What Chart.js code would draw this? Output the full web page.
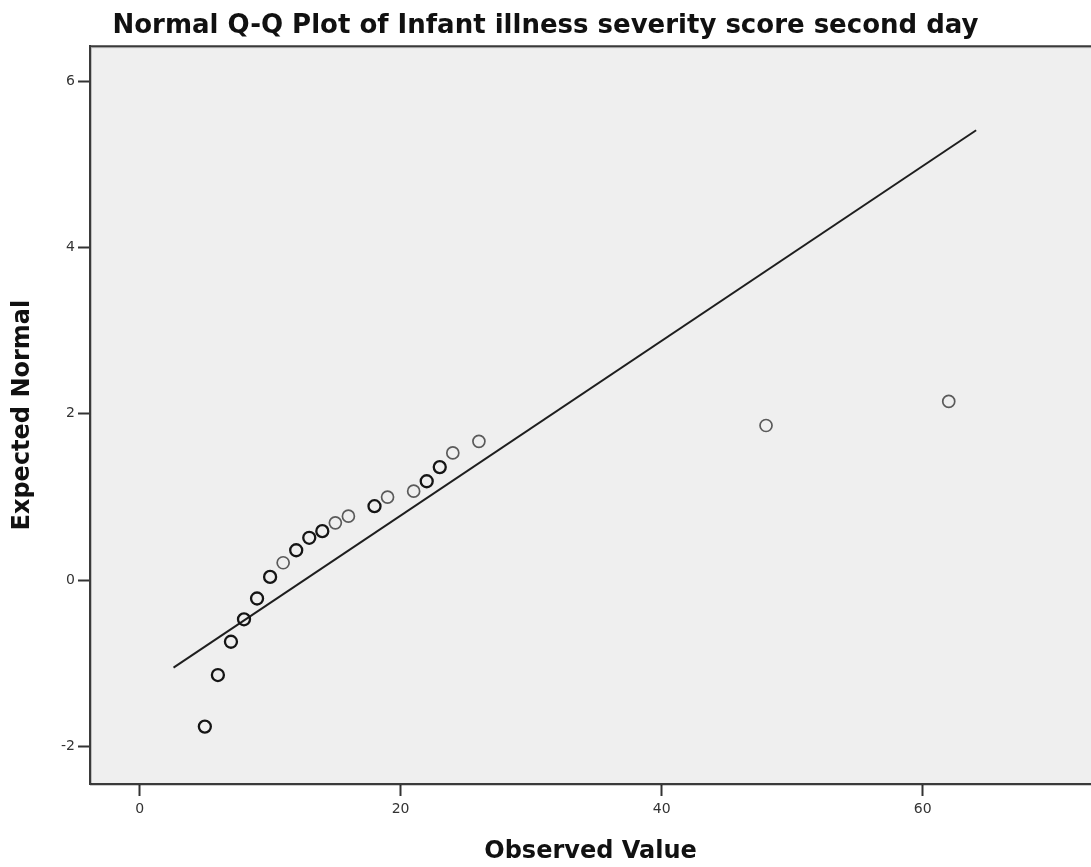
<!DOCTYPE html>
<html><head><meta charset="utf-8">
<script src="https://cdn.jsdelivr.net/npm/chart.js@4.4.1/dist/chart.umd.min.js"></script>
<style>html,body{margin:0;padding:0;background:#fff;overflow:hidden}#wrap{width:1091px;height:867px;position:relative}</style>
</head><body><div id="wrap"><canvas id="c" width="1091" height="867" style="width:1091px;height:867px"></canvas></div>
<script>
// Data
const observedValues = [5, 6, 7, 8, 9, 10, 11, 12, 13, 14, 15, 16, 18, 19, 21, 22, 23, 24, 26, 48, 62];
const expectedNormal = [-1.76, -1.14, -0.74, -0.47, -0.22, 0.04, 0.21, 0.36, 0.51, 0.59, 0.69, 0.77, 0.89, 1.00, 1.07, 1.19, 1.36, 1.53, 1.67, 1.86, 2.15];
const caseCounts = [3, 3, 3, 2, 3, 3, 1, 2, 2, 2, 1, 1, 2, 1, 1, 2, 2, 1, 1, 1, 1];
const refLineX = [2.6, 64.1];
const refLineY = [-1.05, 5.41];
const xTickValues = [0, 20, 40, 60];
const yTickValues = [-2, 0, 2, 4, 6];

const titleText = 'Normal Q-Q Plot of Infant illness severity score second day';
const xTitle = 'Observed Value';
const yTitle = 'Expected Normal';

const points = observedValues.map((x, i) => ({x: x, y: expectedNormal[i]}));
const linePts = refLineX.map((x, i) => ({x: x, y: refLineY[i]}));

const frame = {
  id: 'frame',
  beforeDraw(chart) {
    const {ctx, chartArea: a} = chart;
    ctx.save();
    ctx.fillStyle = '#efefef';
    ctx.fillRect(a.left, a.top, a.right - a.left + 10, a.bottom - a.top);
    ctx.restore();
  },
  afterDatasetsDraw(chart) {
    const {ctx, chartArea: a} = chart;
    ctx.save();
    ctx.strokeStyle = '#3a3a3a';
    ctx.lineWidth = 2;
    ctx.beginPath();
    ctx.moveTo(a.left, a.bottom);
    ctx.lineTo(a.left, a.top);
    ctx.lineTo(a.right + 10, a.top);
    ctx.stroke();
    ctx.strokeStyle = 'rgba(0,0,0,0.2)';
    ctx.lineWidth = 1;
    ctx.beginPath();
    ctx.moveTo(a.left + 1.5, a.bottom);
    ctx.lineTo(a.left + 1.5, a.top + 1.5);
    ctx.lineTo(a.right + 10, a.top + 1.5);
    ctx.moveTo(a.left, a.bottom + 1.5);
    ctx.lineTo(a.right + 10, a.bottom + 1.5);
    ctx.stroke();
    ctx.restore();
  }
};

new Chart(document.getElementById('c'), {
  type: 'scatter',
  data: {
    datasets: [
      {
        type: 'line',
        data: linePts,
        borderColor: '#1e1e1e',
        borderWidth: 2,
        pointRadius: 0,
        fill: false,
        order: 2
      },
      {
        data: points,
        pointRadius: 6,
        pointStyle: 'circle',
        backgroundColor: 'rgba(0,0,0,0)',
        borderColor: ctx => (caseCounts[ctx.dataIndex] > 1 ? '#151515' : '#5a5a5a'),
        pointBorderWidth: ctx => (caseCounts[ctx.dataIndex] > 1 ? 2.3 : 1.7),
        order: 1
      }
    ]
  },
  options: {
    responsive: false,
    animation: false,
    devicePixelRatio: 1,
    layout: {autoPadding: false, padding: {left: 0, right: 0, top: 0, bottom: 0}},
    plugins: {
      legend: {display: false},
      tooltip: {enabled: false},
      title: {
        display: true,
        text: titleText,
        color: '#111',
        font: {family: '"DejaVu Sans", sans-serif', size: 26, weight: 'bold', lineHeight: 1.2},
        padding: {top: 11, bottom: 4}
      }
    },
    scales: {
      x: {
        type: 'linear',
        min: -3.8,
        max: 72.9,
        afterBuildTicks: s => { s.ticks = xTickValues.map(v => ({value: v})); },
        afterFit: s => { s.height = 83; },
        grid: {drawOnChartArea: false, drawTicks: true, tickLength: 12, tickColor: '#333', tickWidth: 2},
        border: {display: true, color: '#3a3a3a', width: 2},
        ticks: {color: '#333', font: {family: '"DejaVu Sans", sans-serif', size: 14}, padding: 5, maxRotation: 0},
        title: {display: true, text: xTitle, color: '#111', font: {family: '"DejaVu Sans", sans-serif', size: 24, weight: 'bold', lineHeight: 1.2}, padding: {top: 0, bottom: 1}}
      },
      y: {
        type: 'linear',
        min: -2.45,
        max: 6.42,
        afterBuildTicks: s => { s.ticks = yTickValues.map(v => ({value: v})); },
        afterFit: s => { s.width = 90; },
        grid: {drawOnChartArea: false, drawTicks: true, tickLength: 12, tickColor: '#333', tickWidth: 2},
        border: {display: true, color: '#3a3a3a', width: 2},
        ticks: {color: '#333', font: {family: '"DejaVu Sans", sans-serif', size: 14}, padding: 3},
        title: {display: true, text: yTitle, color: '#111', font: {family: '"DejaVu Sans", sans-serif', size: 24, weight: 'bold', lineHeight: 1.2}, padding: {top: 8, bottom: 0}}
      }
    }
  },
  plugins: [frame]
});
</script>
</body></html>
